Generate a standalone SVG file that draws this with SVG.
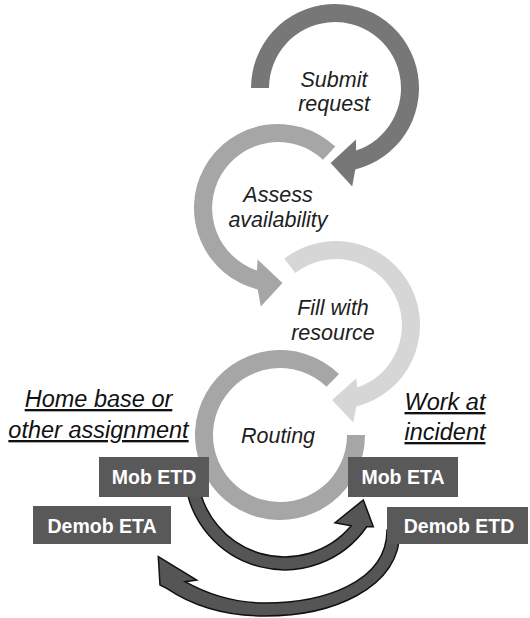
<svg xmlns="http://www.w3.org/2000/svg" width="530" height="618" viewBox="0 0 530 618">
  <style>
    .step { font-family: "Liberation Sans", Arial, sans-serif; font-style: italic; font-size: 21.5px; fill: #1e1e1e; text-anchor: middle; }
    .place { font-family: "Liberation Sans", Arial, sans-serif; font-style: italic; font-size: 23.5px; fill: #111; text-anchor: middle; text-decoration: underline; }
    .tag rect { fill: #595959; }
    .tag text { font-family: "Liberation Sans", Arial, sans-serif; font-weight: bold; font-size: 19.5px; fill: #ffffff; text-anchor: middle; }
    .flow { fill: #555555; stroke: #111111; stroke-width: 1.5; stroke-linejoin: miter; }
  </style>

  <rect width="530" height="618" fill="#ffffff"/>

  <!-- Routing: open ring, no arrowhead -->
  <g id="routing">
    <path d="M 365 435 A 85 85 0 1 1 339 373.9 L 326.5 386.8 A 67 67 0 1 0 347 435 Z" fill="#a6a6a6"/>
    <text class="step" x="278" y="443">Routing</text>
  </g>

  <!-- Fill with resource: clockwise arrow -->
  <g id="fill-with-resource">
    <path d="M 284.3 258.8 A 84 84 0 1 1 356.3 406.5 L 353.2 422.5 L 332.1 399.9 L 356.4 378.2 L 357.1 387.6 A 66 66 0 1 0 295.4 273 Z" fill="#d6d6d6"/>
    <text class="step" x="333" y="315">Fill with</text>
    <text class="step" x="333" y="340">resource</text>
  </g>

  <!-- Assess availability: counter-clockwise arrow -->
  <g id="assess-availability">
    <path d="M 335.3 146.6 A 84 84 0 1 0 257.7 289.5 L 260.8 306.5 L 282.5 282.9 L 257.6 259.5 L 256.9 270.6 A 66 66 0 1 1 323 159.7 Z" fill="#a6a6a6"/>
    <text class="step" x="278" y="202">Assess</text>
    <text class="step" x="278" y="227">availability</text>
  </g>

  <!-- Submit request: clockwise arrow -->
  <g id="submit-request">
    <path d="M 251 88 A 84 84 0 1 1 355.3 169.5 L 352.2 186.5 L 330.6 162.9 L 356 139.5 L 356.1 150.6 A 66 66 0 1 0 269 88 Z" fill="#777777"/>
    <text class="step" x="334" y="87">Submit</text>
    <text class="step" x="334" y="111">request</text>
  </g>

  <!-- Mobilisation / demobilisation connectors -->
  <g id="connectors">
    <path class="flow" d="M 185 480 A 100 100 0 0 0 366.7 526.7 L 373.3 526.7 L 363.3 500 L 335 522.7 L 351.2 525.8 A 87 87 0 0 1 198.1 480 Z"/>
    <path class="flow" d="M 400 530 C 400 590 330 616 265 616 C 222 616 190 604 166.7 588.3 L 160 585 L 158.3 556.7 L 196.7 580 L 185 581.7 C 207 594 235 603 265 603 C 322 603 387 583 387 530 Z"/>
  </g>

  <!-- Location headings -->
  <g id="home-base">
    <text class="place" x="98.5" y="407">Home base or</text>
    <text class="place" x="98.5" y="438">other assignment</text>
  </g>
  <g id="work-at-incident">
    <text class="place" x="445" y="410">Work at</text>
    <text class="place" x="445" y="440">incident</text>
  </g>

  <!-- Time tags -->
  <g id="mob-etd" class="tag">
    <rect x="99" y="457" width="110" height="40"/>
    <text x="154" y="484">Mob ETD</text>
  </g>
  <g id="demob-eta" class="tag">
    <rect x="33" y="506" width="138" height="38"/>
    <text x="102" y="533">Demob ETA</text>
  </g>
  <g id="mob-eta" class="tag">
    <rect x="348" y="457" width="110" height="40"/>
    <text x="403" y="484">Mob ETA</text>
  </g>
  <g id="demob-etd" class="tag">
    <rect x="387" y="507" width="141" height="37"/>
    <text x="459" y="533">Demob ETD</text>
  </g>
</svg>
